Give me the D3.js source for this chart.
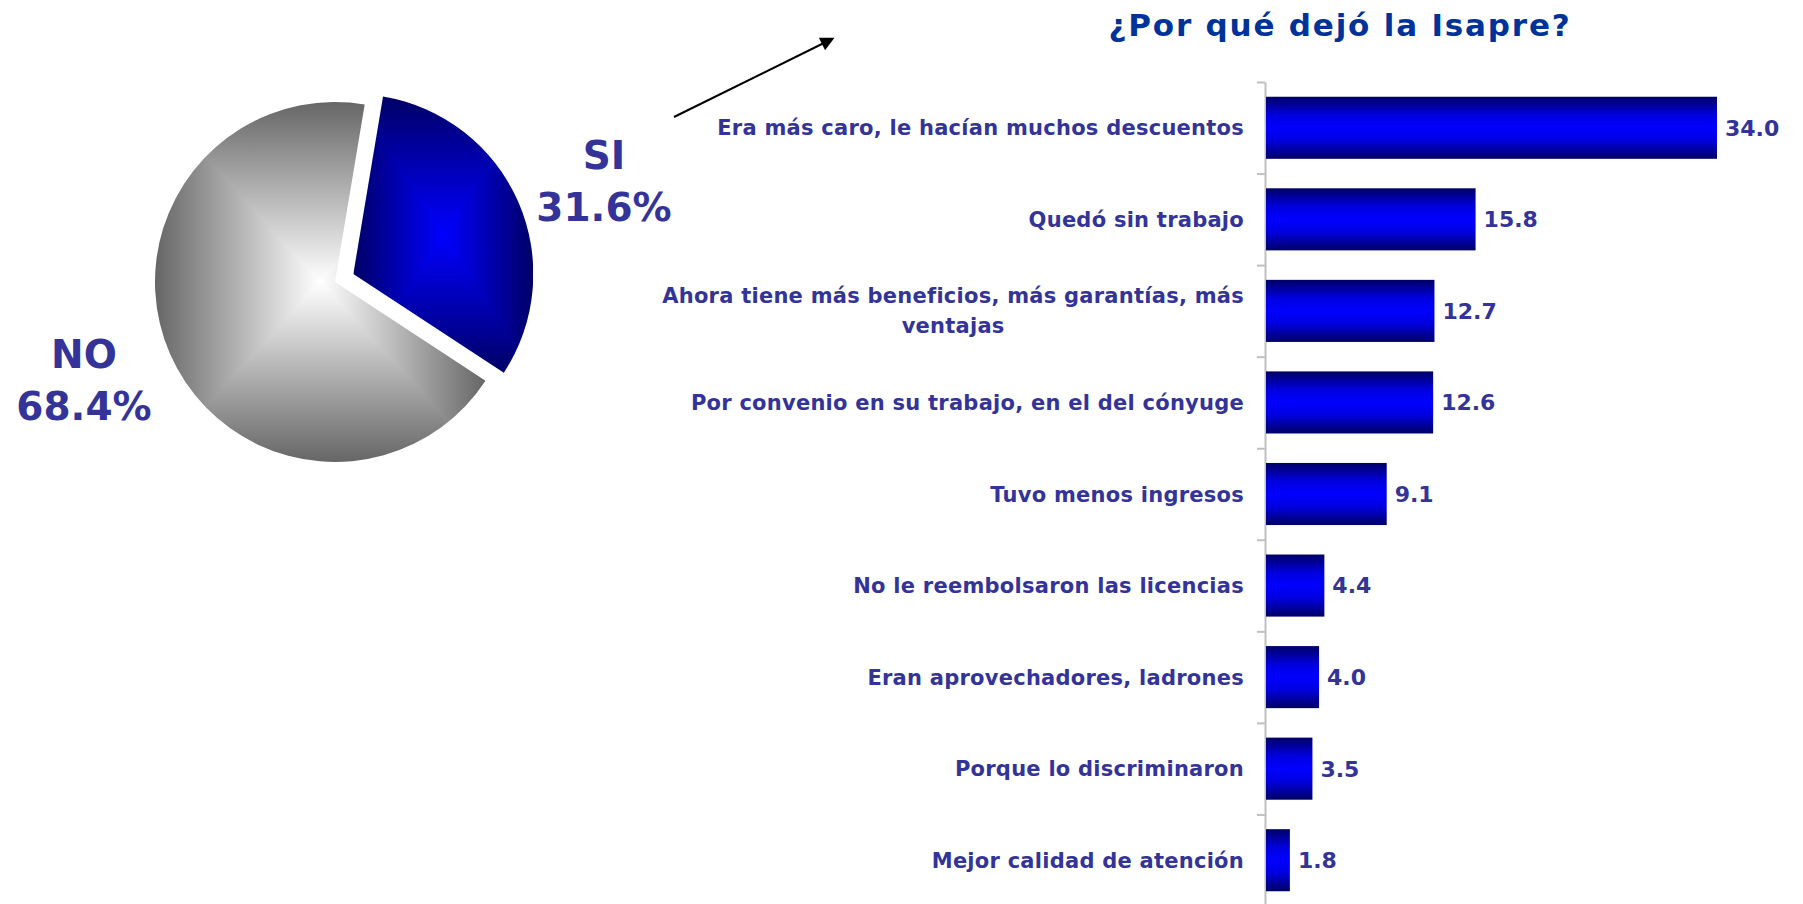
<!DOCTYPE html>
<html>
<head>
<meta charset="utf-8">
<script src="https://cdn.jsdelivr.net/npm/d3@7/dist/d3.min.js"></script>
<style>
  body { margin: 0; background: #fff; }
  svg { display: block; font-family: "DejaVu Sans", sans-serif; font-weight: bold; }
</style>
</head>
<body>
<div id="chart"></div>
<script>
// pie: left-hand question
var pieLabels = ["SI", "NO"];
var pieValues = [31.6, 68.4];

// bars: reasons
var title = "¿Por qué dejó la Isapre?";
var categories = [
  "Era más caro, le hacían muchos descuentos",
  "Quedó sin trabajo",
  "Ahora tiene más beneficios, más garantías, más\nventajas",
  "Por convenio en su trabajo, en el del cónyuge",
  "Tuvo menos ingresos",
  "No le reembolsaron las licencias",
  "Eran aprovechadores, ladrones",
  "Porque lo discriminaron",
  "Mejor calidad de atención"
];
var values = [34.0, 15.8, 12.7, 12.6, 9.1, 4.4, 4.0, 3.5, 1.8];

var width = 1803, height = 904;
var textColor = "#333399";

var svg = d3.select("#chart").append("svg")
  .attr("width", width)
  .attr("height", height);
var defs = svg.append("defs");

// ---------- pie ----------
var pieCx = 335, pieCy = 282, radius = 180, explode = 20;
var startA = 9.5 * Math.PI / 180;
var pie = d3.pie().sort(null).startAngle(startA).endAngle(startA + 2 * Math.PI);
var arc = d3.arc().innerRadius(0).outerRadius(radius);
var slices = pie(pieValues);
var sliceColors = [
  { edge: "#000066", center: "#0000ff" },
  { edge: "#666666", center: "#ffffff" }
];

slices.forEach(function (d, i) {
  var mid = (d.startAngle + d.endAngle) / 2;
  var off = i === 0 ? explode : 0;
  var g = svg.append("g")
    .attr("transform", "translate(" + (pieCx + Math.sin(mid) * off) + "," + (pieCy - Math.cos(mid) * off) + ")");
  var clipId = "slice-clip-" + i;
  defs.append("clipPath").attr("id", clipId)
    .append("path").attr("d", arc(d));
  // bbox of the slice, for the "from centre" rectangular gradient
  var tmp = g.append("path").attr("d", arc(d)).attr("fill", "none");
  var bb = tmp.node().getBBox();
  tmp.remove();
  var x0 = bb.x, y0 = bb.y, x1 = bb.x + bb.width, y1 = bb.y + bb.height;
  var cx = (x0 + x1) / 2, cy = (y0 + y1) / 2;
  var parts = [
    { pts: [[x0, y0], [x1, y0], [cx, cy]], from: [cx, y0] },
    { pts: [[x0, y1], [x1, y1], [cx, cy]], from: [cx, y1] },
    { pts: [[x0, y0], [x0, y1], [cx, cy]], from: [x0, cy] },
    { pts: [[x1, y0], [x1, y1], [cx, cy]], from: [x1, cy] }
  ];
  var fillG = g.append("g").attr("clip-path", "url(#" + clipId + ")");
  parts.forEach(function (p, j) {
    var gid = "slice-grad-" + i + "-" + j;
    var lg = defs.append("linearGradient").attr("id", gid)
      .attr("gradientUnits", "userSpaceOnUse")
      .attr("x1", p.from[0]).attr("y1", p.from[1])
      .attr("x2", cx).attr("y2", cy);
    lg.append("stop").attr("offset", 0).attr("stop-color", sliceColors[i].edge);
    lg.append("stop").attr("offset", 1).attr("stop-color", sliceColors[i].center);
    fillG.append("polygon")
      .attr("points", p.pts.map(function (q) { return q.join(","); }).join(" "))
      .attr("fill", "url(#" + gid + ")")
      .attr("shape-rendering", "crispEdges");
  });
});

// pie labels
var pieLabelPos = [[604, 169], [84, 368]];
slices.forEach(function (d, i) {
  var t = svg.append("text")
    .attr("x", pieLabelPos[i][0])
    .attr("y", pieLabelPos[i][1])
    .attr("text-anchor", "middle")
    .attr("fill", textColor)
    .attr("font-size", "39px");
  t.append("tspan").attr("x", pieLabelPos[i][0]).text(pieLabels[i]);
  t.append("tspan").attr("x", pieLabelPos[i][0]).attr("dy", 52).text(d3.format(".1f")(pieValues[i]) + "%");
});

// arrow
defs.append("marker")
  .attr("id", "arrowhead")
  .attr("viewBox", "0 0 10 10")
  .attr("refX", 8).attr("refY", 5)
  .attr("markerUnits", "userSpaceOnUse")
  .attr("markerWidth", 16).attr("markerHeight", 14)
  .attr("orient", "auto")
  .append("path").attr("d", "M0,0L10,5L0,10Z").attr("fill", "#000");
svg.append("line")
  .attr("x1", 674).attr("y1", 117)
  .attr("x2", 832).attr("y2", 39)
  .attr("stroke", "#000").attr("stroke-width", 2)
  .attr("marker-end", "url(#arrowhead)");

// ---------- bars ----------
var axisX = 1265;
var x = d3.scaleLinear().domain([0, 34]).range([axisX + 1, 1717]);
var yTop = 82, yBottom = 906;
var y = d3.scaleBand().domain(categories).range([yTop, yBottom])
  .paddingInner(0.322).paddingOuter(0.161);
var yEdges = d3.scaleLinear().domain([0, categories.length]).range([yTop, yBottom]);

svg.append("text")
  .attr("x", 1340).attr("y", 36)
  .attr("text-anchor", "middle")
  .attr("fill", "#003399")
  .attr("font-size", "31px")
  .attr("letter-spacing", "1.8px")
  .text(title);

var barGrad = defs.append("linearGradient").attr("id", "bar-grad")
  .attr("x1", 0).attr("y1", 0).attr("x2", 0).attr("y2", 1);
[[0, "#000066"], [0.3, "#0000e0"], [0.5, "#0000ff"], [0.7, "#0000e0"], [1, "#000066"]]
  .forEach(function (s) {
    barGrad.append("stop").attr("offset", s[0]).attr("stop-color", s[1]);
  });

var axis = svg.append("g")
  .attr("transform", "translate(" + axisX + ",0)")
  .call(d3.axisLeft(yEdges)
    .tickValues(d3.range(0, categories.length + 1))
    .tickFormat("")
    .tickSize(8)
    .tickSizeOuter(0));
axis.selectAll("path, line").attr("stroke", "#c0c0c0").attr("stroke-width", 2);

svg.selectAll(".bar")
  .data(values)
  .enter().append("rect")
  .attr("class", "bar")
  .attr("x", x(0))
  .attr("y", function (d, i) { return y(categories[i]); })
  .attr("width", function (d) { return x(d) - x(0); })
  .attr("height", y.bandwidth())
  .attr("fill", "url(#bar-grad)");

svg.selectAll(".value")
  .data(values)
  .enter().append("text")
  .attr("class", "value")
  .attr("x", function (d) { return x(d) + 8; })
  .attr("y", function (d, i) { return y(categories[i]) + y.bandwidth() / 2; })
  .attr("dy", "0.36em")
  .attr("fill", textColor)
  .attr("font-size", "22px")
  .text(function (d) { return d3.format(".1f")(d); });

// category labels, right aligned, wrapped lines centred on each other
var labelRight = 1244, lineH = 30;
categories.forEach(function (c, i) {
  var lines = c.split("\n");
  var cyB = y(c) + y.bandwidth() / 2;
  var t = svg.append("text")
    .attr("fill", textColor)
    .attr("font-size", "21px")
    .attr("letter-spacing", "0.25px")
    .attr("text-anchor", "middle");
  var spans = lines.map(function (l, k) {
    return t.append("tspan")
      .attr("y", cyB + (k - (lines.length - 1) / 2) * lineH)
      .attr("dy", "0.36em")
      .text(l);
  });
  var maxW = d3.max(spans, function (s) { return s.node().getComputedTextLength(); });
  spans.forEach(function (s) { s.attr("x", labelRight - maxW / 2); });
});
</script>
</body>
</html>
